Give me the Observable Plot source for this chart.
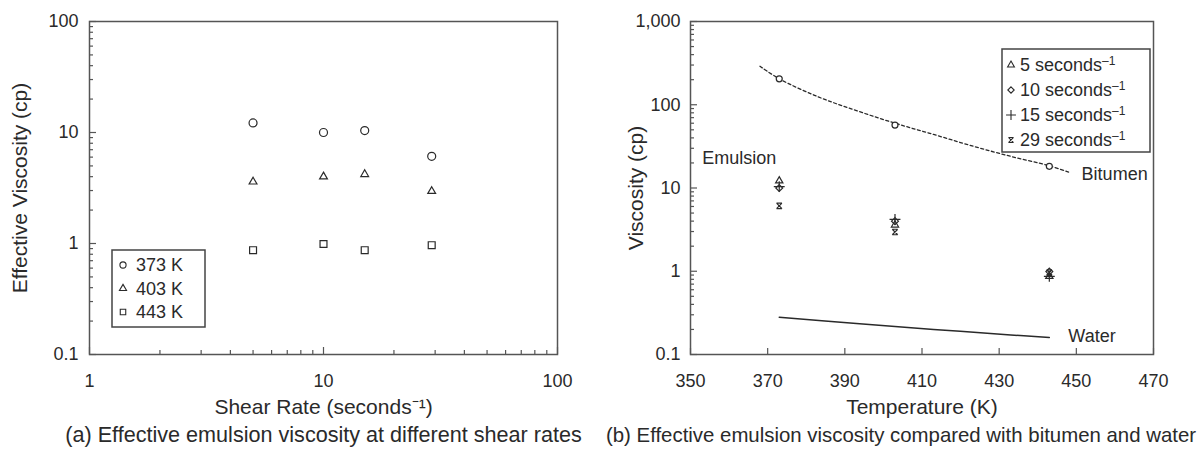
<!DOCTYPE html>
<html><head><meta charset="utf-8">
<script src="https://cdn.jsdelivr.net/npm/d3@7"></script>
<script src="https://cdn.jsdelivr.net/npm/@observablehq/plot@0.6"></script>
<style>
body{margin:0;background:#fff;}
#wrap{position:relative;width:1204px;height:449px;display:flex;font-family:"Liberation Sans",Arial,Helvetica,sans-serif;}
#wrap svg{overflow:visible}
</style></head><body><div id="wrap"></div>
<script>
// ---------- data ----------
const shearRates = [5, 10, 15, 29];               // seconds^-1
const temperatures = [373, 403, 443];             // K
const visc373 = [12.2, 10.0, 10.4, 6.1];          // cp at each shear rate
const visc403 = [3.6, 4.0, 4.2, 2.96];
const visc443 = [0.87, 0.99, 0.87, 0.965];
const bitumenCurveT = [368, 373, 383, 393, 403, 413, 423, 433, 443, 448];
const bitumenCurveV = [290, 205, 125, 85, 60, 44, 32, 24, 18.5, 15.5];
const bitumenPointT = [373, 403, 443];
const bitumenPointV = [205, 57, 18.2];
const waterT = [373, 393, 413, 433, 443];
const waterV = [0.28, 0.235, 0.2, 0.172, 0.16];
const leftYTicks = [0.1, 1, 10, 100];
const leftXTicks = [1, 10, 100];
const rightYTicks = [0.1, 1, 10, 100, 1000];
const rightXTicks = [350, 370, 390, 410, 430, 450, 470];
const tempLabels = ["373 K", "403 K", "443 K"];
const rateLabels = ["5 seconds", "10 seconds", "15 seconds", "29 seconds"];

// ---------- helpers ----------
const viscByTemp = [visc373, visc403, visc443];
const emulsion = temperatures.flatMap((t, j) => shearRates.map((s, i) => ({t, s, v: viscByTemp[j][i]})));
const minorLog = (lo, hi) => { const out = []; for (let d = lo; d < hi; d *= 10) for (let k = 2; k <= 9; k++) out.push(+(d * k).toPrecision(3)); return out; };
const ink = "#2a2a2a", axisInk = "#555";
const xbar = {draw(ctx, size) { const r = Math.sqrt(size) / 2; ctx.moveTo(-r, -r); ctx.lineTo(r, r); ctx.moveTo(r, -r); ctx.lineTo(-r, r); ctx.moveTo(-r, -r); ctx.lineTo(r, -r); ctx.moveTo(-r, r); ctx.lineTo(r, r); }};
const tempSymbols = ["circle", "triangle", "square"];
const tempR = [4, 2.9, 3.9];
const rateSymbols = ["triangle", "diamond2", "plus", xbar];
const rateR = [2.7, 3.1, 3.6, 3.1];
const font = '"Liberation Sans", Arial, Helvetica, sans-serif';

const H = 449, W = 602, mt = 21, mb = 95;

// ---------- left chart ----------
{
  const ml = 89, mr = 45, iw = W - ml - mr, ih = H - mt - mb;
  const marks = [
    Plot.ruleY(leftYTicks, {y: d => d, insetRight: iw - 7, stroke: axisInk, strokeWidth: 1.2}),
    Plot.ruleY(minorLog(0.1, 100), {y: d => d, insetRight: iw - 4, stroke: axisInk, strokeWidth: 1.2}),
    Plot.ruleX(leftXTicks, {x: d => d, insetTop: ih - 7, stroke: axisInk, strokeWidth: 1.2}),
    Plot.ruleX(minorLog(1, 100), {x: d => d, insetTop: ih - 4, stroke: axisInk, strokeWidth: 1.2}),
    Plot.axisY({ticks: leftYTicks, tickSize: 0, tickPadding: 11, tickFormat: d => String(d), fontSize: 18, label: null}),
    Plot.axisX({ticks: leftXTicks, tickSize: 0, tickPadding: 20, tickFormat: d => String(d), fontSize: 18, label: null}),
    Plot.frame({stroke: axisInk, strokeWidth: 1.5}),
    ...temperatures.map((t, j) => Plot.dot(emulsion.filter(d => d.t === t), {x: "s", y: "v", symbol: tempSymbols[j], r: tempR[j], stroke: ink, strokeWidth: 1.2, fill: "none"})),
    Plot.text(["Effective Viscosity (cp)"], {frameAnchor: "left", textAnchor: "middle", rotate: -90, dx: -69, fontSize: 21, fill: ink}),
    Plot.text(["Shear Rate (seconds\u207B\u00B9)"], {frameAnchor: "bottom", dy: 59, fontSize: 21, fill: ink}),
    Plot.text(["(a) Effective emulsion viscosity at different shear rates"], {frameAnchor: "bottom", dy: 87, dx: 0, fontSize: 21.6, fill: ink})
  ];
  const p = Plot.plot({width: W, height: H, marginLeft: ml, marginRight: mr, marginTop: mt, marginBottom: mb,
    style: {fontFamily: font, color: ink, background: "white"},
    x: {type: "log", domain: [1, 100]}, y: {type: "log", domain: [0.1, 100]}, marks});
  document.getElementById("wrap").appendChild(p);
  // legend (layout only)
  const svg = d3.select(p);
  const g = svg.append("g").attr("font-family", font).attr("font-size", 18).attr("fill", ink).attr("text-anchor", "start");
  g.append("rect").attr("x", 112).attr("y", 250).attr("width", 93).attr("height", 77).attr("fill", "white").attr("stroke", "#444").attr("stroke-width", 1.5);
  const legSym = [d3.symbolCircle, d3.symbolTriangle, d3.symbolSquare];
  tempLabels.forEach((lab, j) => {
    const cy = 265 + j * 23.5;
    g.append("path").attr("transform", `translate(123,${cy})`).attr("d", d3.symbol(legSym[j], j === 1 ? 22 : 30)())
      .attr("fill", "none").attr("stroke", ink).attr("stroke-width", 1.1);
    g.append("text").attr("x", 136).attr("y", cy).attr("dy", "0.35em").text(lab);
  });
}

// ---------- right chart ----------
{
  const ml = 88, mr = 51, iw = W - ml - mr, ih = H - mt - mb;
  const last = (arrT, arrV) => [{t: arrT[arrT.length - 1], v: arrV[arrV.length - 1]}];
  const marks = [
    Plot.ruleY(rightYTicks, {y: d => d, insetRight: iw - 7, stroke: axisInk, strokeWidth: 1.2}),
    Plot.ruleY(minorLog(0.1, 1000), {y: d => d, insetRight: iw - 4, stroke: axisInk, strokeWidth: 1.2}),
    Plot.ruleX(rightXTicks, {x: d => d, insetTop: ih - 6, stroke: axisInk, strokeWidth: 1.2}),
    Plot.axisY({ticks: rightYTicks, tickSize: 0, tickPadding: 10, tickFormat: d3.format(","), fontSize: 18, label: null}),
    Plot.axisX({ticks: rightXTicks, tickSize: 0, tickPadding: 20, tickFormat: d => String(d), fontSize: 18, label: null}),
    Plot.frame({stroke: axisInk, strokeWidth: 1.5}),
    Plot.line(bitumenCurveT.map((t, i) => ({t, v: bitumenCurveV[i]})), {x: "t", y: "v", curve: "catmull-rom", stroke: ink, strokeWidth: 1.3, strokeDasharray: "3,2.5"}),
    Plot.dot(bitumenPointT.map((t, i) => ({t, v: bitumenPointV[i]})), {x: "t", y: "v", r: 3, stroke: ink, strokeWidth: 1.2, fill: "white"}),
    Plot.line(waterT.map((t, i) => ({t, v: waterV[i]})), {x: "t", y: "v", curve: "catmull-rom", stroke: ink, strokeWidth: 1.5}),
    ...shearRates.map((s, i) => Plot.dot(emulsion.filter(d => d.s === s), {x: "t", y: "v", symbol: rateSymbols[i], r: rateR[i], stroke: ink, strokeWidth: 1.2, fill: "none"})),
    Plot.text(last(bitumenCurveT, bitumenCurveV), {x: "t", y: "v", text: () => "Bitumen", textAnchor: "start", dx: 13, dy: 2, fontSize: 18, fill: ink}),
    Plot.text(last(waterT, waterV), {x: "t", y: "v", text: () => "Water", textAnchor: "start", dx: 19, dy: -1, fontSize: 18, fill: ink}),
    Plot.text([{t: temperatures[0], v: visc373[0]}], {x: "t", y: "v", text: () => "Emulsion", textAnchor: "start", dx: -77, dy: -23, fontSize: 18, fill: ink}),
    Plot.text(["Viscosity (cp)"], {frameAnchor: "left", textAnchor: "middle", rotate: -90, dx: -54, fontSize: 21, fill: ink}),
    Plot.text(["Temperature (K)"], {frameAnchor: "bottom", dy: 59, fontSize: 21, fill: ink}),
    Plot.text(["(b) Effective emulsion viscosity compared with bitumen and water"], {frameAnchor: "bottom", dy: 87, dx: -21, fontSize: 20.4, fill: ink})
  ];
  const p = Plot.plot({width: W, height: H, marginLeft: ml, marginRight: mr, marginTop: mt, marginBottom: mb,
    style: {fontFamily: font, color: ink, background: "white"},
    x: {type: "linear", domain: [350, 470]}, y: {type: "log", domain: [0.1, 1000]}, marks});
  document.getElementById("wrap").appendChild(p);
  const svg = d3.select(p);
  const g = svg.append("g").attr("font-family", font).attr("font-size", 18).attr("fill", ink).attr("text-anchor", "start");
  g.append("rect").attr("x", 1002 - 602).attr("y", 49).attr("width", 148).attr("height", 103).attr("fill", "white").attr("stroke", "#444").attr("stroke-width", 1.5);
  const symTypes = [d3.symbolTriangle, d3.symbolDiamond2, d3.symbolPlus, xbar];
  const symSizes = [20, 26, 34, 26];
  rateLabels.forEach((lab, i) => {
    const cy = 65 + i * 25;
    g.append("path").attr("transform", `translate(${1011 - 602},${cy})`).attr("d", d3.symbol(symTypes[i], symSizes[i])())
      .attr("fill", "none").attr("stroke", ink).attr("stroke-width", 1.1);
    const t = g.append("text").attr("x", 1020 - 602).attr("y", cy).attr("dy", "0.35em");
    t.append("tspan").text(lab);
    t.append("tspan").attr("font-size", 12).attr("dy", "-0.55em").text("\u20131");
  });
}
</script></body></html>
